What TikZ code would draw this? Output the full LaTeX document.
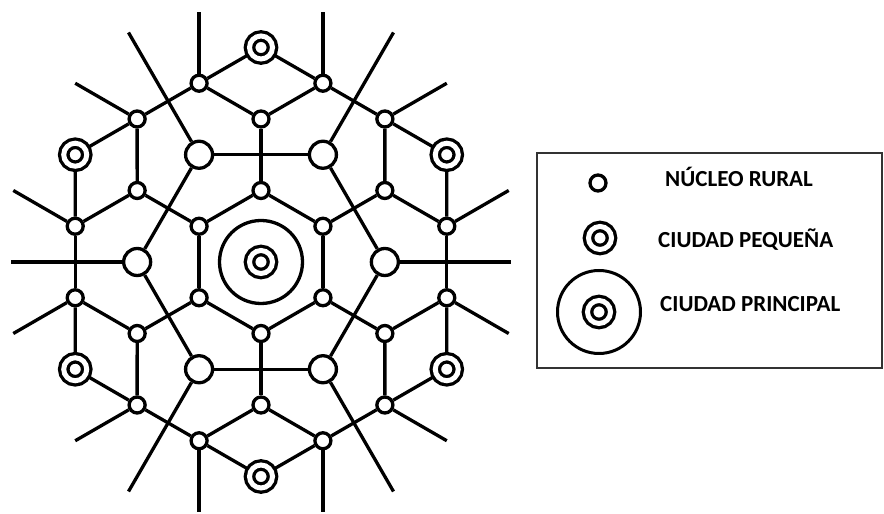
\documentclass[tikz,border=0pt]{standalone}
\usepackage{fontspec}
\setmainfont{Carlito}
\usepackage{tikz}
\usetikzlibrary{backgrounds}
\tikzset{rural/.style={circle,draw,fill=white,line width=3.3pt,minimum size=16pt,inner sep=0pt},
  plaza/.style={rural,minimum size=27pt},
  ciudad/.style={circle,draw,fill=white,line width=3.3pt,double,double distance=5pt,minimum size=23pt,inner sep=0pt},
  anillo/.style={circle,draw,line width=3.3pt,minimum size=83pt,inner sep=0pt},
  via/.style={line width=3.3pt},
  rotulo/.style={anchor=base west,inner sep=0pt,font=\bfseries\fontsize{23}{26}\selectfont}}

\begin{document}
\begin{tikzpicture}[x=1pt,y=1pt]
        \useasboundingbox (0,0) rectangle (884,514);
        \def\a{71.5}

        % red de asentamientos
        \begin{scope}[shift={(261,252)}]
          \node[anillo] (centro) at (0,0) {};
          \node[ciudad] (centro-c) at (0,0) {};
          \foreach \k/\sl in {0/265,1/265,2/250,3/265,4/265,5/250}{
            \pgfmathsetmacro{\t}{30+60*\k}
            \node[rural] (r1-\k) at (\t:\a) {};
            \node[rural] (r3-\k) at (\t:2*\a) {};
            \node[ciudad] (c-\k) at (\t:3*\a) {};
            \node[rural] (pp-\k) at (\t+19.1:189.2) {};
            \node[rural] (pm-\k) at (\t-19.1:189.2) {};
            \node[plaza] (b-\k) at (\t+30:1.732*\a) {};
            \path (pp-\k) ++(\t:\a) coordinate (fp-\k);
            \path (pm-\k) ++(\t:\a) coordinate (fm-\k);
            \coordinate (s-\k) at (\t+30:\sl);
          }
          \begin{scope}[on background layer]
            \foreach \k in {0,...,5}{
              \pgfmathtruncatemacro{\n}{mod(\k+1,6)}
              \draw[via] (r1-\k) -- (r1-\n);
              \draw[via] (r1-\k) -- (r3-\k);
              \draw[via] (pm-\k) -- (r3-\k) -- (pp-\k);
              \draw[via] (pm-\k) -- (c-\k) -- (pp-\k);
              \draw[via] (pp-\k) -- (pm-\n);
              \draw[via] (pp-\k) -- (fp-\k);
              \draw[via] (pm-\k) -- (fm-\k);
              \draw[via] (b-\k) -- (b-\n);
              \draw[via] (b-\k) -- (s-\k);
            }
          \end{scope}
        \end{scope}

        % leyenda
        \draw[line width=1.5pt,black!80] (537,146) rectangle (882,361);
        \node[rural] (ley-r) at (598,331) {};
        \node[ciudad] (ley-c) at (600,276) {};
        \node[anillo,line width=3pt] (ley-p) at (599,202) {};
        \node[ciudad] (ley-pc) at (599,202) {};
        \node[rotulo] at (665,327) {NÚCLEO RURAL};
        \node[rotulo] at (658,266) {CIUDAD PEQUEÑA};
        \node[rotulo] at (660,202) {CIUDAD PRINCIPAL};

      \end{tikzpicture}
\end{document}
